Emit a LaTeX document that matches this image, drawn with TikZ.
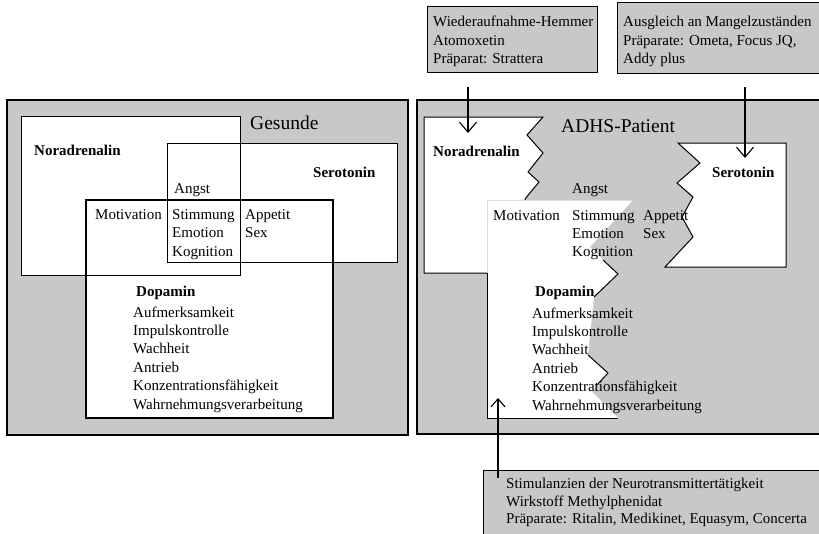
\documentclass[tikz,border=0pt]{standalone}
\usepackage{fontspec}
\setmainfont{Liberation Serif}
\usetikzlibrary{arrows.meta}
\definecolor{panel}{RGB}{200,200,202}
\definecolor{faint}{RGB}{222,222,224}
\tikzset{
  txt/.style={anchor=base west, inner sep=0pt, font=\fontsize{15}{18}\selectfont},
  bold/.style={anchor=base west, inner sep=0pt, font=\fontsize{15}{18}\selectfont\bfseries},
  title/.style={anchor=base west, inner sep=0pt, font=\fontsize{19.5}{23}\selectfont},
  frame/.style={draw=black, line width=1.1pt},
  thin/.style={draw=black, line width=1pt},
  med/.style={line width=1.1pt, -{Straight Barb[length=10pt,width=17pt,line width=1.1pt]}},
  meds/.style={line width=1.1pt, -{Straight Barb[length=8pt,width=14pt,line width=1.1pt]}},
}
\begin{document}
\begin{tikzpicture}[x=1pt,y=-1pt]
\useasboundingbox (0,0) rectangle (819,533);

% ---------------- left panel: Gesunde ----------------
\fill[panel] (7,100) rectangle (408,435);
\draw[frame] (7,100) rectangle (408,435);
\fill[white] (21,116) rectangle (240,275);
\fill[white] (167,143) rectangle (397,262);
\fill[white] (86,200) rectangle (333,418);
\draw[thin] (21,116) rectangle (240,275);
\draw[thin] (167,143) rectangle (397,262);
\draw[frame] (86,200) rectangle (333,418);

\node[title] (gesunde) at (250,129) {Gesunde};
\node[bold] (lnor) at (34,155) {Noradrenalin};
\node[bold] (lser) at (313,177) {Serotonin};
\node[txt] (lang) at (174,193) {Angst};
\node[txt] (lmot) at (95,219) {Motivation};
\node[txt] (lsti) at (172,219) {Stimmung};
\node[txt] (lemo) at (172,237.5) {Emotion};
\node[txt] (lkog) at (172,256) {Kognition};
\node[txt] (lapp) at (245,219) {Appetit};
\node[txt] (lsex) at (245,237.5) {Sex};
\node[bold] (ldop) at (136,296) {Dopamin};
\node[txt] (ld1) at (133,317) {Aufmerksamkeit};
\node[txt] (ld2) at (133,335.4) {Impulskontrolle};
\node[txt] (ld3) at (133,353.8) {Wachheit};
\node[txt] (ld4) at (133,372.2) {Antrieb};
\node[txt] (ld5) at (133,390.6) {Konzentrationsfähigkeit};
\node[txt] (ld6) at (133,409) {Wahrnehmungsverarbeitung};

% ---------------- right panel: ADHS-Patient ----------------
\fill[panel] (417,100) rectangle (822,434);
\draw[frame] (417,100) rectangle (822,434);

% Noradrenalin (torn)
\filldraw[fill=white, thin, line join=miter]
  (424,117) -- (543,117) -- (527,135) -- (543,153) -- (528,172) -- (539,182)
  -- (525,199) -- (525,273) -- (424,273) -- cycle;

% Serotonin (torn)
\filldraw[fill=white, thin, line join=miter]
  (678,143) -- (786,143) -- (786,267) -- (665,267) -- (693,237) -- (682,217)
  -- (693,197) -- (677,183) -- (700,163) -- cycle;

% Dopamin (torn)
\fill[white] (487,200) -- (633,200) -- (590,247) -- (603,260) -- (618,274)
  -- (594,297) -- (588,355) -- (608,373) -- (592,392) -- (618,418)
  -- (487,418) -- cycle;
\draw[faint, line width=0.9pt] (487,273) -- (487,200) -- (633,200);
\draw[thin, line join=miter] (487,273) -- (487,418) -- (618,418);
\draw[thin, line join=miter] (603,260) -- (618,274) -- (594,297);
\draw[thin, line join=miter] (588,355) -- (608,373) -- (596,386);

\node[title] (adhs) at (561,132) {ADHS-Patient};
\node[bold] (rnor) at (433,156) {Noradrenalin};
\node[bold] (rser) at (712,177) {Serotonin};
\node[txt] (rang) at (572,193) {Angst};
\node[txt] (rmot) at (493,220) {Motivation};
\node[txt] (rsti) at (572,220) {Stimmung};
\node[txt] (remo) at (572,238) {Emotion};
\node[txt] (rkog) at (572,256) {Kognition};
\node[txt] (rapp) at (643,220) {Appetit};
\node[txt] (rsex) at (643,238) {Sex};
\node[bold] (rdop) at (535,296) {Dopamin};
\node[txt] (rd1) at (532,318) {Aufmerksamkeit};
\node[txt] (rd2) at (532,336.4) {Impulskontrolle};
\node[txt] (rd3) at (532,354.8) {Wachheit};
\node[txt] (rd4) at (532,373.2) {Antrieb};
\node[txt] (rd5) at (532,391.6) {Konzentrationsfähigkeit};
\node[txt] (rd6) at (532,410) {Wahrnehmungsverarbeitung};

% ---------------- medication boxes ----------------
\filldraw[fill=panel, thin] (427,6) rectangle (597,72);
\node[txt] (b1a) at (433,26.5) {Wiederaufnahme-Hemmer};
\node[txt] (b1b) at (433,45) {Atomoxetin};
\node[txt] (b1c) at (433,63.5) {Präparat: Strattera};

\filldraw[fill=panel, thin] (617,2) rectangle (822,73);
\node[txt] (b2a) at (623,26.5) {Ausgleich an Mangelzuständen};
\node[txt] (b2b) at (623,45) {Präparate: Ometa, Focus JQ,};
\node[txt] (b2c) at (623,63.5) {Addy plus};

\filldraw[fill=panel, thin] (483,470) rectangle (822,536);
\node[txt] (b3a) at (506,488) {Stimulanzien der Neurotransmittertätigkeit};
\node[txt] (b3b) at (506,506) {Wirkstoff Methylphenidat};
\node[txt] (b3c) at (506,523.5) {Präparate: Ritalin, Medikinet, Equasym, Concerta};

% ---------------- arrows ----------------
\coordinate (a1s) at (468,87);
\coordinate (a1e) at (468,133);
\coordinate (a2s) at (745,87);
\coordinate (a2e) at (745,158);
\coordinate (a3s) at (498,478);
\coordinate (a3e) at (498,398);
\draw[med] (a1s) -- (a1e);
\draw[med] (a2s) -- (a2e);
\draw[meds] (a3s) -- (a3e);
\end{tikzpicture}
\end{document}
